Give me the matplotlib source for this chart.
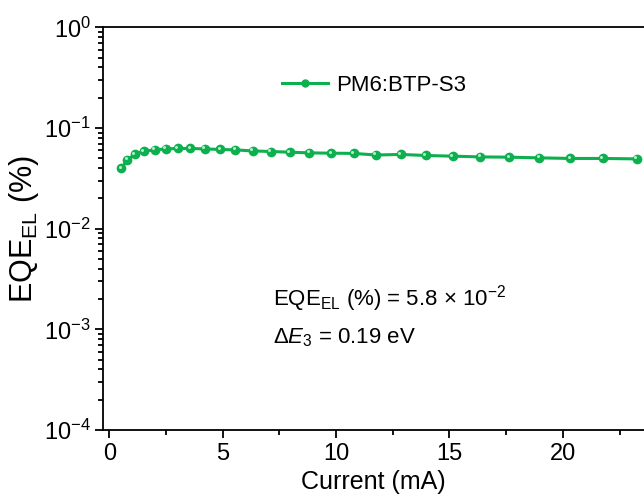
import numpy as np
import matplotlib
matplotlib.use("Agg")
import matplotlib.pyplot as plt
import matplotlib.transforms as mtransforms
from matplotlib.ticker import LogLocator, MultipleLocator, NullFormatter

plt.rcParams['font.family'] = ['Liberation Sans', 'DejaVu Sans']
plt.rcParams['mathtext.fontset'] = 'custom'
plt.rcParams['mathtext.rm'] = 'Liberation Sans'
plt.rcParams['mathtext.it'] = 'Liberation Sans:italic'
plt.rcParams['mathtext.bf'] = 'Liberation Sans:bold'

# =====[ Data ]=====
current_ma = [0.53, 0.79, 1.13, 1.52, 2.00, 2.48, 3.02, 3.57, 4.21, 4.90,
              5.56, 6.33, 7.12, 7.96, 8.82, 9.78, 10.78, 11.76, 12.86, 13.96,
              15.14, 16.36, 17.63, 18.96, 20.33, 21.76, 23.26]
eqe_el = [0.0397, 0.0483, 0.0547, 0.0589, 0.0607, 0.0621, 0.0627, 0.0627,
          0.0621, 0.0613, 0.0607, 0.0593, 0.0585, 0.0576, 0.0567, 0.0563,
          0.0560, 0.0540, 0.0547, 0.0534, 0.0526, 0.0517, 0.0514, 0.0506,
          0.0499, 0.0499, 0.0494]
series_name = 'PM6:BTP-S3'
green = '#0db04f'

# =====[ Figure ]=====
fig = plt.figure(figsize=(6.44, 4.97), dpi=100)
ax = fig.add_axes([0.1607, 0.1348, 0.8393, 0.8100])

ax.plot(current_ma, eqe_el, '-', color=green, linewidth=2.2, zorder=2)
ax.plot(current_ma, eqe_el, 'o', color=green, markersize=7, markeredgewidth=0, zorder=3)
# little highlight on each ball
shine = mtransforms.offset_copy(ax.transData, fig=fig, x=-1.1, y=1.1, units='points')
ax.plot(current_ma, eqe_el, 'o', color='#b4ecc6', markersize=2.2, markeredgewidth=0,
        transform=shine, zorder=4)

ax.set_yscale('log')
ax.set_ylim(1e-4, 1)
ax.set_xlim(-0.26, 23.58)
ax.yaxis.set_major_locator(LogLocator(base=10, numticks=10))
ax.yaxis.set_minor_locator(LogLocator(base=10, subs=np.arange(2, 10), numticks=10))
ax.yaxis.set_minor_formatter(NullFormatter())
ax.xaxis.set_major_locator(MultipleLocator(5))
ax.xaxis.set_minor_locator(MultipleLocator(2.5))

for s in ['left', 'bottom', 'top']:
    ax.spines[s].set_linewidth(1.3)
ax.spines['right'].set_visible(False)
ax.tick_params(which='both', direction='out', width=1.3, labelsize=17, top=False, right=False)
ax.tick_params(which='major', length=6, pad=3)
ax.tick_params(which='minor', length=3.5)

ax.set_xlabel('Current (mA)', fontsize=18, labelpad=4)
ax.set_ylabel(r'EQE$_{\rm EL}$ (%)', fontsize=22, labelpad=2)

# legend drawn like the original: short line with a ball in the middle
ax.plot([], [], '-o', color=green, linewidth=2.2, markersize=5, label=series_name)
leg = ax.legend(loc='center left', bbox_to_anchor=(0.331, 0.857), frameon=False,
                fontsize=16, handlelength=2.04, handletextpad=0.36,
                borderaxespad=0, borderpad=0)

ax.text(0.3136, 0.31, r'EQE$_{\rm EL}$ (%) = 5.8 × 10$^{-2}$', transform=ax.transAxes,
        fontsize=16, va='baseline')
ax.text(0.3136, 0.216, r'$\Delta E_3$ = 0.19 eV', transform=ax.transAxes,
        fontsize=16, va='baseline')

fig.savefig('out.png', dpi=100)
